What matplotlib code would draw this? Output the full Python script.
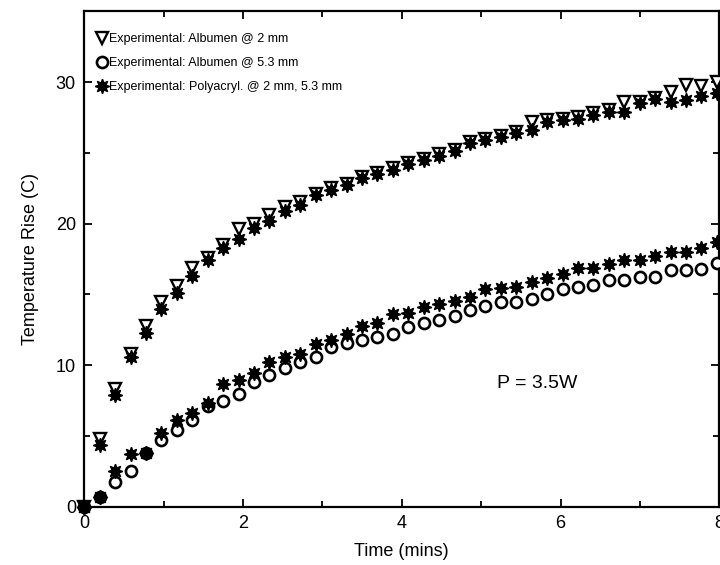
import numpy as np
import matplotlib
matplotlib.use("Agg")
import matplotlib.pyplot as plt
from matplotlib.ticker import MultipleLocator

plt.rcParams['font.family'] = ['Liberation Sans', 'DejaVu Sans']

# time samples (mins), 42 readings from 0 to ~8 min
time_min = np.linspace(0, 7.97, 42)

albumen_2mm = [0, 4.8, 8.3, 10.8, 12.8, 14.5, 15.6, 16.9, 17.6, 18.5,
               19.6, 20.0, 20.6, 21.2, 21.5, 22.1, 22.5, 22.8, 23.3, 23.6,
               23.9, 24.3, 24.6, 24.9, 25.2, 25.8, 26.0, 26.2, 26.5, 27.2,
               27.3, 27.4, 27.5, 27.8, 28.0, 28.6, 28.6, 28.9, 29.3, 29.8,
               29.7, 30.0]
albumen_53mm = [0, 0.7, 1.75, 2.55, 3.8, 4.7, 5.4, 6.1, 7.1, 7.5,
                8.0, 8.8, 9.3, 9.8, 10.25, 10.6, 11.3, 11.55, 11.75, 12.0,
                12.2, 12.7, 12.95, 13.2, 13.5, 13.9, 14.2, 14.5, 14.5, 14.7,
                15.0, 15.4, 15.5, 15.7, 16.0, 16.0, 16.2, 16.2, 16.7, 16.7,
                16.8, 17.2]
polyacryl_2mm = [0, 4.4, 7.9, 10.6, 12.3, 14.0, 15.1, 16.3, 17.4, 18.3,
                 18.9, 19.7, 20.2, 20.9, 21.3, 22.0, 22.4, 22.7, 23.2, 23.5,
                 23.8, 24.2, 24.5, 24.8, 25.1, 25.7, 25.9, 26.1, 26.4, 26.6,
                 27.2, 27.3, 27.4, 27.7, 27.9, 27.9, 28.5, 28.8, 28.6, 28.7,
                 29.0, 29.2]
polyacryl_53mm = [0, 0.7, 2.5, 3.7, 3.8, 5.2, 6.1, 6.6, 7.3, 8.7,
                  8.95, 9.45, 10.2, 10.6, 10.8, 11.5, 11.8, 12.2, 12.8, 13.0,
                  13.65, 13.7, 14.1, 14.3, 14.55, 14.85, 15.35, 15.45, 15.55, 15.85,
                  16.15, 16.45, 16.85, 16.9, 17.15, 17.4, 17.45, 17.7, 18.0, 18.0,
                  18.25, 18.7]

labels = ["Experimental: Albumen @ 2 mm",
          "Experimental: Albumen @ 5.3 mm",
          "Experimental: Polyacryl. @ 2 mm, 5.3 mm"]

fig = plt.figure(figsize=(7.2, 5.65), dpi=100)
ax = fig.add_axes([0.117, 0.103, 0.882, 0.877])

star = (8, 1, 0)
ax.plot(time_min, albumen_2mm, linestyle="none", marker="v", markersize=9,
        markerfacecolor="white", markeredgecolor="black", markeredgewidth=1.7,
        clip_on=False, label=labels[0], zorder=3)
ax.plot(time_min, albumen_53mm, linestyle="none", marker="o", markersize=8,
        markerfacecolor="white", markeredgecolor="black", markeredgewidth=1.9,
        clip_on=False, label=labels[1], zorder=3)
ax.plot(time_min, polyacryl_2mm, linestyle="none", marker=star, markersize=10.5,
        color="black", clip_on=False, label=labels[2], zorder=4)
ax.plot(time_min, polyacryl_53mm, linestyle="none", marker=star, markersize=10.5,
        color="black", clip_on=False, zorder=4)

ax.set_xlim(0, 8)
ax.set_ylim(0, 35)
ax.xaxis.set_major_locator(MultipleLocator(2))
ax.xaxis.set_minor_locator(MultipleLocator(1))
ax.yaxis.set_major_locator(MultipleLocator(10))
ax.yaxis.set_minor_locator(MultipleLocator(5))
ax.tick_params(which="both", direction="in", top=True, right=True,
               width=1.3, labelsize=13)
ax.tick_params(which="major", length=6, pad=6)
ax.tick_params(which="minor", length=4)
for sp in ax.spines.values():
    sp.set_linewidth(1.6)

ax.set_xlabel("Time (mins)", fontsize=13, labelpad=8)
ax.set_ylabel("Temperature Rise (C)", fontsize=13, labelpad=12)

ax.text(5.2, 8.4, "P = 3.5W", fontsize=14)

ax.legend(loc="upper left", frameon=False, fontsize=9, handletextpad=0.1,
          handlelength=1.0, labelspacing=0.95, borderaxespad=0.5,
          bbox_to_anchor=(0.0, 0.978))

fig.savefig("out.png", dpi=100)
